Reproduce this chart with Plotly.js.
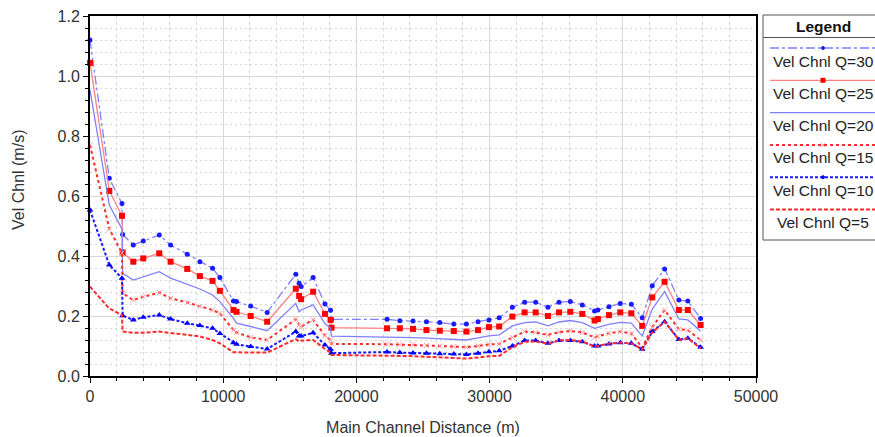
<!DOCTYPE html>
<html>
<head>
<meta charset="utf-8">
<script src="https://cdn.plot.ly/plotly-3.0.1.min.js"></script>
<style>html,body{margin:0;padding:0;background:#fff;}#chart{width:875px;height:437px;}</style>
</head>
<body>
<div id="chart"></div>
<script>
// Main channel stations (m)
const stations = [0,1450,2400,2450,3250,4000,5200,6050,7300,8250,9200,9750,10770,11000,12060,13300,
  15450,15700,15850,16750,17640,18060,18130,22300,23260,24250,25260,26260,27310,28260,29130,29950,30720,
  31710,32630,33460,34380,35210,36060,36960,37880,38130,38960,39810,40640,41460,42210,43140,44210,44880,45840];

const velQ30 = [1.12,0.659,0.575,0.472,0.437,0.45,0.47,0.437,0.406,0.381,0.359,0.328,0.25,0.248,0.233,0.212,
  0.339,0.309,0.298,0.328,0.24,0.219,0.189,0.189,0.184,0.183,0.181,0.178,0.173,0.173,0.181,0.187,0.194,
  0.229,0.246,0.246,0.229,0.246,0.248,0.237,0.217,0.22,0.231,0.242,0.239,0.194,0.301,0.357,0.253,0.25,0.192];
const velQ25 = [1.044,0.617,0.534,0.412,0.381,0.392,0.409,0.381,0.357,0.333,0.317,0.284,0.22,0.214,0.2,0.181,
  0.291,0.267,0.256,0.281,0.207,0.187,0.161,0.159,0.159,0.157,0.153,0.151,0.15,0.148,0.153,0.163,0.165,
  0.198,0.212,0.212,0.2,0.212,0.214,0.207,0.185,0.19,0.203,0.212,0.209,0.167,0.262,0.314,0.22,0.22,0.17];
const velQ20 = [0.953,0.57,0.49,0.342,0.32,0.331,0.348,0.326,0.305,0.29,0.27,0.248,0.192,0.176,0.165,0.151,
  0.242,0.214,0.22,0.237,0.175,0.16,0.133,0.131,0.13,0.128,0.126,0.124,0.122,0.12,0.127,0.134,0.137,
  0.167,0.178,0.18,0.167,0.18,0.185,0.178,0.159,0.162,0.172,0.179,0.176,0.133,0.223,0.282,0.19,0.187,0.15];
const velQ15 = [0.77,0.49,0.41,0.276,0.253,0.264,0.278,0.259,0.245,0.232,0.22,0.209,0.153,0.145,0.129,0.12,
  0.189,0.17,0.165,0.187,0.135,0.12,0.107,0.106,0.105,0.104,0.102,0.1,0.098,0.096,0.1,0.105,0.107,
  0.129,0.148,0.145,0.137,0.146,0.15,0.145,0.129,0.132,0.142,0.148,0.142,0.094,0.163,0.22,0.156,0.153,0.12];
const velQ10 = [0.553,0.37,0.326,0.201,0.187,0.196,0.203,0.19,0.176,0.168,0.159,0.142,0.111,0.106,0.098,0.09,
  0.148,0.133,0.133,0.144,0.103,0.089,0.076,0.08,0.078,0.077,0.076,0.074,0.073,0.072,0.076,0.081,0.084,
  0.1,0.118,0.118,0.109,0.118,0.118,0.114,0.1,0.1,0.107,0.111,0.109,0.089,0.148,0.181,0.122,0.126,0.096];
const velQ5 = [0.298,0.225,0.203,0.148,0.144,0.144,0.148,0.143,0.137,0.132,0.12,0.109,0.079,0.079,0.079,0.078,
  0.123,0.115,0.118,0.12,0.09,0.078,0.07,0.069,0.067,0.066,0.064,0.062,0.06,0.058,0.062,0.066,0.067,
  0.096,0.114,0.115,0.108,0.118,0.12,0.115,0.098,0.1,0.108,0.111,0.109,0.089,0.145,0.181,0.12,0.126,0.092];

const seriesNames = ['Vel Chnl Q=30','Vel Chnl Q=25','Vel Chnl Q=20','Vel Chnl Q=15','Vel Chnl Q=10','Vel Chnl Q=5'];
const xTickVals = [0,10000,20000,30000,40000,50000];
const yTickVals = [0,0.2,0.4,0.6,0.8,1.0,1.2];

const styles = [
  {line:{color:'#7f7fff',width:1.3,dash:'dashdot'}, marker:{symbol:'circle',size:5,color:'#1a1aff'}, mode:'lines+markers'},
  {line:{color:'#ff8080',width:1.3,dash:'solid'}, marker:{symbol:'square',size:6,color:'#ff0000'}, mode:'lines+markers'},
  {line:{color:'#8080ff',width:1.3,dash:'solid'}, mode:'lines'},
  {line:{color:'#ff2a2a',width:2,dash:'dot'}, marker:{symbol:'x-thin',size:5,color:'#ff9a9a',line:{width:1,color:'#ff9a9a'}}, mode:'lines+markers'},
  {line:{color:'#1a1aff',width:2,dash:'3px,2px'}, marker:{symbol:'triangle-up',size:6,color:'#0000ff'}, mode:'lines+markers'},
  {line:{color:'#ff2a2a',width:2,dash:'4px,2px'}, mode:'lines'}
];
const ys = [velQ30,velQ25,velQ20,velQ15,velQ10,velQ5];
const traces = ys.map((y,i)=>Object.assign({type:'scatter',x:stations,y:y,name:seriesNames[i],cliponaxis:false,showlegend:false}, styles[i]));

// pixel helpers for manual legend box (outside plot area)
const M = {l:90,r:119,t:16,b:61};
const W = 875, H = 437;
const pw = W - M.l - M.r, ph = H - M.t - M.b;
const px = p => (p - M.l)/pw;
const py = p => (H - M.b - p)/ph;

const shapes = [];
const annotations = [];
// Legend frame
shapes.push({type:'rect',xref:'paper',yref:'paper',x0:px(763),x1:px(884),y0:py(15),y1:py(240),line:{color:'#555',width:1},fillcolor:'rgba(0,0,0,0)'});
shapes.push({type:'line',xref:'paper',yref:'paper',x0:px(763),x1:px(884),y0:py(37.5),y1:py(37.5),line:{color:'#555',width:1}});
annotations.push({xref:'paper',yref:'paper',x:px(823),y:py(26),text:'<b>Legend</b>',showarrow:false,xanchor:'center',yanchor:'middle',font:{size:15.5,color:'#111'}});
for (let i=0;i<seriesNames.length;i++){
  const ly = 48 + i*32.3, ty = 61 + i*32.3;
  shapes.push({type:'line',xref:'paper',yref:'paper',x0:px(770),x1:px(884),y0:py(ly),y1:py(ly),line:{color:styles[i].line.color,width:styles[i].line.width,dash:styles[i].line.dash}});
  if (styles[i].marker){
    const mc = styles[i].marker.color;
    if (i===0 || i===4){
      shapes.push({type:'circle',xref:'paper',yref:'paper',x0:px(821.5),x1:px(824.5),y0:py(ly-1.5),y1:py(ly+1.5),line:{color:mc,width:1},fillcolor:mc});
    } else if (i===1){
      shapes.push({type:'rect',xref:'paper',yref:'paper',x0:px(820.5),x1:px(825.5),y0:py(ly-2.5),y1:py(ly+2.5),line:{color:mc,width:0},fillcolor:mc});
    } else {
      shapes.push({type:'line',xref:'paper',yref:'paper',x0:px(821),x1:px(825),y0:py(ly-2),y1:py(ly+2),line:{color:mc,width:1}});
      shapes.push({type:'line',xref:'paper',yref:'paper',x0:px(821),x1:px(825),y0:py(ly+2),y1:py(ly-2),line:{color:mc,width:1}});
    }
  }
  annotations.push({xref:'paper',yref:'paper',x:px(823),y:py(ty),text:seriesNames[i],showarrow:false,xanchor:'center',yanchor:'middle',font:{size:15.5,color:'#222'}});
}
// Y axis title
annotations.push({xref:'paper',yref:'paper',x:px(18),y:py(180),text:'Vel Chnl (m/s)',textangle:-90,showarrow:false,xanchor:'center',yanchor:'middle',font:{size:16,color:'#333'}});

const layout = {
  width:W, height:H,
  margin:M,
  paper_bgcolor:'#fff', plot_bgcolor:'#fff',
  font:{family:'"Liberation Sans", Arial, sans-serif', size:16, color:'#333'},
  showlegend:false,
  xaxis:{
    range:[0,50000], tickvals:xTickVals, ticktext:xTickVals.map(String),
    ticks:'outside', ticklen:5, tickcolor:'#000', tickwidth:1,
    showline:true, linecolor:'#000', linewidth:2, mirror:true,
    showgrid:true, gridcolor:'#d8d8d8', gridwidth:1, zeroline:false,
    minor:{dtick:2000, tick0:0, ticks:'outside', ticklen:3, tickcolor:'#000', showgrid:true, gridcolor:'#d8d8d8', griddash:'3px,3px', gridwidth:1},
    title:{text:'Main Channel Distance (m)', standoff:18, font:{size:16,color:'#333'}},
    tickfont:{size:16,color:'#333'}
  },
  yaxis:{
    range:[0,1.2], tickvals:yTickVals, ticktext:yTickVals.map(v=>v.toFixed(1)),
    ticks:'outside', ticklen:5, tickcolor:'#000', tickwidth:1,
    showline:true, linecolor:'#000', linewidth:2, mirror:true,
    showgrid:true, gridcolor:'#d8d8d8', gridwidth:1, zeroline:false,
    minor:{dtick:0.04, tick0:0, ticks:'outside', ticklen:3, tickcolor:'#000', showgrid:true, gridcolor:'#d8d8d8', griddash:'2px,3px', gridwidth:1},
    tickfont:{size:16,color:'#333'}
  },
  shapes:shapes,
  annotations:annotations
};

Plotly.newPlot('chart', traces, layout, {displayModeBar:false, staticPlot:true});
</script>
</body>
</html>
